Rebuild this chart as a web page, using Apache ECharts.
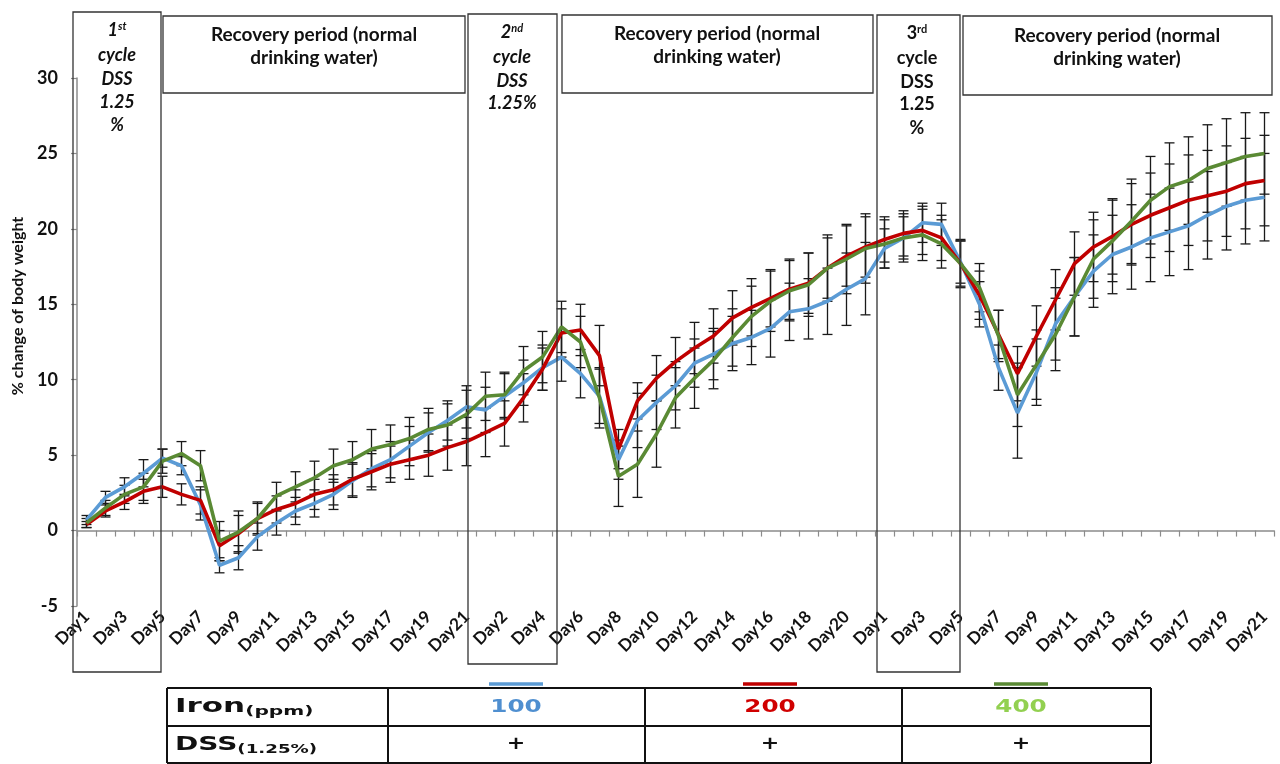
<!DOCTYPE html>
<html>
<head>
<meta charset="utf-8">
<script src="https://cdn.jsdelivr.net/npm/echarts@6/dist/echarts.min.js"></script>
<style>
  html, body { margin: 0; padding: 0; background: #fff; }
  #chart { width: 1280px; height: 764px; }
</style>
</head>
<body>
<div id="chart"></div>
<script>
// Three DSS cycles, each followed by recovery: Day1..Day21 per cycle
const days = [
  'Day1','Day2','Day3','Day4','Day5','Day6','Day7','Day8','Day9','Day10','Day11',
  'Day12','Day13','Day14','Day15','Day16','Day17','Day18','Day19','Day20','Day21',
  'Day1','Day2','Day3','Day4','Day5','Day6','Day7','Day8','Day9','Day10','Day11',
  'Day12','Day13','Day14','Day15','Day16','Day17','Day18','Day19','Day20','Day21',
  'Day1','Day2','Day3','Day4','Day5','Day6','Day7','Day8','Day9','Day10','Day11',
  'Day12','Day13','Day14','Day15','Day16','Day17','Day18','Day19','Day20','Day21'
];

// % change of body weight, iron 100 ppm
const iron100 = [
  0.7, 2.2, 2.9, 3.8, 4.8, 4.3, 1.7, -2.3, -1.8, -0.4, 0.5, 1.3, 1.8, 2.4, 3.3, 4.1, 4.7, 5.6, 6.5, 7.3, 8.2,
  8.0, 8.9, 9.8, 10.8, 11.5, 10.4, 8.9, 4.7, 7.3, 8.5, 9.6, 11.1, 11.7, 12.4, 12.8, 13.4, 14.5, 14.7, 15.2, 16.0, 16.7,
  18.7, 19.4, 20.4, 20.3, 17.8, 15.0, 10.8, 7.8, 10.5, 13.7, 15.5, 17.2, 18.3, 18.8, 19.4, 19.8, 20.2, 20.9, 21.5, 21.9, 22.1
];
// iron 200 ppm
const iron200 = [
  0.4, 1.3, 1.9, 2.6, 2.9, 2.4, 2.0, -1.0, -0.2, 0.8, 1.4, 1.8, 2.4, 2.7, 3.4, 3.9, 4.4, 4.7, 5.0, 5.5, 5.9,
  6.5, 7.1, 8.8, 10.7, 13.1, 13.3, 11.6, 5.4, 8.6, 10.1, 11.2, 12.1, 12.9, 14.1, 14.8, 15.4, 16.0, 16.4, 17.4, 18.2, 18.8,
  19.3, 19.7, 19.9, 19.4, 17.7, 15.6, 13.0, 10.4, 12.9, 15.3, 17.7, 18.8, 19.5, 20.3, 20.9, 21.4, 21.9, 22.2, 22.5, 23.0, 23.2
];
// iron 400 ppm
const iron400 = [
  0.5, 1.5, 2.4, 2.9, 4.6, 5.1, 4.3, -0.7, -0.1, 0.8, 2.3, 2.9, 3.5, 4.3, 4.7, 5.4, 5.7, 6.1, 6.7, 7.0, 7.7,
  8.9, 9.0, 10.6, 11.5, 13.5, 12.5, 8.8, 3.6, 4.4, 6.4, 8.8, 10.1, 11.3, 12.8, 14.2, 15.2, 15.9, 16.3, 17.4, 18.0, 18.7,
  19.0, 19.4, 19.6, 19.0, 17.7, 16.1, 12.9, 9.0, 11.0, 13.0, 15.5, 18.0, 19.2, 20.5, 21.9, 22.8, 23.2, 24.0, 24.4, 24.8, 25.0
];

// Standard error for each group
const err100 = [
  0.3, 0.4, 0.6, 0.9, 0.6, 0.6, 1.0, 0.5, 0.8, 0.9, 0.8, 0.9, 0.9, 1.0, 1.1, 1.2, 1.2, 1.3, 1.3, 1.3, 1.4,
  1.5, 1.5, 1.5, 1.5, 1.6, 1.6, 1.8, 1.3, 1.8, 1.8, 1.6, 1.6, 1.7, 1.8, 1.8, 1.9, 1.9, 2.0, 2.2, 2.4, 2.4,
  1.3, 1.4, 1.3, 1.4, 1.4, 1.5, 1.5, 3.0, 2.2, 2.4, 2.6, 2.4, 2.6, 2.8, 2.9, 2.9, 2.9, 2.9, 2.9, 2.9, 2.9
];
const err200 = [
  0.2, 0.4, 0.5, 0.8, 0.7, 0.7, 0.9, 1.0, 1.2, 1.0, 0.9, 0.9, 1.0, 1.0, 1.1, 1.2, 1.2, 1.3, 1.4, 1.5, 1.6,
  1.6, 1.5, 1.6, 1.4, 1.6, 1.7, 2.0, 1.3, 1.2, 1.5, 1.6, 1.7, 1.8, 1.8, 1.9, 1.9, 2.0, 2.0, 2.0, 2.0, 2.0,
  1.5, 1.5, 1.6, 1.5, 1.5, 1.6, 1.6, 1.8, 2.0, 2.0, 2.1, 2.3, 2.5, 2.7, 2.8, 2.9, 3.0, 3.0, 3.0, 3.0, 3.0
];
const err400 = [
  0.3, 0.5, 0.6, 0.9, 0.8, 0.8, 1.0, 1.3, 1.4, 1.1, 0.9, 1.0, 1.1, 1.1, 1.2, 1.3, 1.3, 1.4, 1.4, 1.4, 1.6,
  1.6, 1.5, 1.6, 1.7, 1.7, 1.7, 2.0, 2.0, 2.2, 2.2, 2.0, 2.0, 1.9, 1.9, 2.0, 2.0, 2.0, 2.1, 2.2, 2.3, 2.3,
  1.6, 1.6, 1.7, 1.6, 1.6, 1.6, 1.7, 2.1, 2.3, 2.4, 2.6, 2.6, 2.7, 2.8, 2.9, 2.9, 2.9, 2.9, 2.9, 2.9, 2.7
];

const yTicks = { min: -5, max: 30, interval: 5 };

const groups = [
  { name: '100', values: iron100, errors: err100, color: '#5b9bd5' },
  { name: '200', values: iron200, errors: err200, color: '#c00000' },
  { name: '400', values: iron400, errors: err400, color: '#5a8a34' }
];

const LABEL_FONT = 'Lato, "Open Sans", sans-serif';
const chart = echarts.init(document.getElementById('chart'), null, { renderer: 'canvas' });

function renderErrorBar(params, api) {
  const lo = api.coord([api.value(0), api.value(1)]);
  const hi = api.coord([api.value(0), api.value(2)]);
  const cap = 5;
  const style = { stroke: '#1a1a1a', lineWidth: 1.3 };
  return {
    type: 'group',
    children: [
      { type: 'line', shape: { x1: lo[0], y1: lo[1], x2: hi[0], y2: hi[1] }, style },
      { type: 'line', shape: { x1: lo[0] - cap, y1: lo[1], x2: lo[0] + cap, y2: lo[1] }, style },
      { type: 'line', shape: { x1: hi[0] - cap, y1: hi[1], x2: hi[0] + cap, y2: hi[1] }, style }
    ]
  };
}

const series = [];
groups.forEach(g => {
  series.push({
    type: 'custom',
    name: g.name + ' err',
    renderItem: renderErrorBar,
    data: g.values.map((v, i) => [i, +(v - g.errors[i]).toFixed(2), +(v + g.errors[i]).toFixed(2)]),
    encode: { x: 0, y: [1, 2] },
    z: 3,
    silent: true
  });
});
groups.forEach(g => {
  series.push({
    type: 'line',
    name: g.name,
    data: g.values,
    symbol: 'none',
    lineStyle: { color: g.color, width: 3.6 },
    itemStyle: { color: g.color },
    z: 4,
    silent: true
  });
});

// Annotation boxes marking the DSS cycles and recovery periods
const boxStroke = { stroke: '#333', lineWidth: 1.3 };
function box(x, y, w, h, fill) {
  return { type: 'rect', shape: { x, y, width: w, height: h }, style: Object.assign({ fill: fill || 'none' }, boxStroke), z: 10, silent: true };
}
const boxFont = 'bold 19px ' + LABEL_FONT;
function txt(x, y, text, font) {
  return {
    type: 'text', x, y, z: 11, silent: true,
    style: { text, font: font || boxFont, fill: '#111', textAlign: 'center', textVerticalAlign: 'middle' }
  };
}
function cycleLine(x, y, num, sup, italic) {
  const st = italic ? 'italic ' : '';
  return {
    type: 'text', x, y, z: 11, silent: true,
    style: {
      text: '{n|' + num + '}{s|' + sup + '}',
      textAlign: 'center', textVerticalAlign: 'middle',
      rich: {
        n: { font: st + 'bold 18px ' + LABEL_FONT, fill: '#111' },
        s: { font: st + 'bold 11px ' + LABEL_FONT, fill: '#111', verticalAlign: 'top', padding: [0, 0, 8, 0] }
      }
    }
  };
}
function cycleText(x, y, text, italic) {
  return txt(x, y, text, (italic ? 'italic ' : '') + 'bold 18px ' + LABEL_FONT);
}

const graphics = [
  // DSS cycle boxes
  box(73, 12, 88, 660),
  box(468, 14, 89, 650),
  box(877, 15, 83, 657),
  // recovery boxes
  box(163, 16, 302, 77, '#fff'),
  box(562, 15, 311, 78, '#fff'),
  box(963, 16, 309, 79, '#fff'),
  txt(314, 35, 'Recovery period (normal'), txt(314, 58, 'drinking water)'),
  txt(717, 34, 'Recovery period (normal'), txt(717, 57, 'drinking water)'),
  txt(1117, 36, 'Recovery period (normal'), txt(1117, 59, 'drinking water)'),
  cycleLine(117, 30, '1', 'st', true),
  cycleText(117, 55, 'cycle', true), cycleText(117, 79, 'DSS', true),
  cycleText(117, 102, '1.25', true), cycleText(117, 125, '%', true),
  cycleLine(512, 32, '2', 'nd', true),
  cycleText(512, 57, 'cycle', true), cycleText(512, 81, 'DSS', true), cycleText(512, 103, '1.25%', true),
  cycleLine(917, 33, '3', 'rd', false),
  cycleText(917, 58, 'cycle', false), cycleText(917, 82, 'DSS', false),
  cycleText(917, 104, '1.25', false), cycleText(917, 128, '%', false),
  // y-axis title
  {
    type: 'text', x: 18, y: 306, rotation: Math.PI / 2, z: 11, silent: true,
    style: { text: '% change of body weight', font: 'bold 16px ' + LABEL_FONT, fill: '#111', textAlign: 'center', textVerticalAlign: 'middle' }
  }
];

// Legend table below the chart
const tbl = { left: 167, right: 1151, top: 688, mid: 726, bottom: 763, cols: [388, 645, 902] };
const tStroke = { stroke: '#111', lineWidth: 2 };
function hline(y) { return { type: 'line', shape: { x1: tbl.left, y1: y, x2: tbl.right, y2: y }, style: tStroke, z: 10, silent: true }; }
function vline(x) { return { type: 'line', shape: { x1: x, y1: tbl.top, x2: x, y2: tbl.bottom }, style: tStroke, z: 10, silent: true }; }
graphics.push(hline(tbl.top), hline(tbl.mid), hline(tbl.bottom), vline(tbl.left), vline(tbl.right));
tbl.cols.forEach(c => graphics.push(vline(c)));

const TABLE_FONT = '"DejaVu Sans", Verdana, sans-serif';
function wideText(x, y, rich, text, align, sx) {
  return {
    type: 'group', x, y, scaleX: sx || 1.45, z: 11, silent: true,
    children: [{ type: 'text', x: 0, y: 0, z: 11, style: { text, rich, textAlign: align || 'center', textVerticalAlign: 'middle' } }]
  };
}
const headRich = {
  b: { font: 'bold 20px ' + TABLE_FONT, fill: '#111' },
  sub: { font: 'bold 13px ' + TABLE_FONT, fill: '#111', verticalAlign: 'bottom', padding: [9, 0, 0, 0] }
};
graphics.push(wideText(175, 707, headRich, '{b|Iron}{sub|(ppm)}', 'left', 1.55));
graphics.push(wideText(175, 745, headRich, '{b|DSS}{sub|(1.25%)}', 'left', 1.4));

const legendCells = [
  { cx: 516, color: '#5b9bd5', text: '100', textColor: '#4f8fd0' },
  { cx: 770, color: '#c00000', text: '200', textColor: '#d00000' },
  { cx: 1021, color: '#5a8a34', text: '400', textColor: '#92d050' }
];
legendCells.forEach(c => {
  graphics.push({ type: 'line', shape: { x1: c.cx - 27, y1: 684, x2: c.cx + 27, y2: 684 }, style: { stroke: c.color, lineWidth: 3.5 }, z: 10, silent: true });
  graphics.push(wideText(c.cx, 708, { v: { font: 'bold 17px ' + TABLE_FONT, fill: c.textColor } }, '{v|' + c.text + '}'));
  graphics.push(wideText(c.cx, 745, { v: { font: 'bold 17px ' + TABLE_FONT, fill: '#111' } }, '{v|+}', 'center', 1.3));
});

const option = {
  animation: false,
  backgroundColor: '#fff',
  grid: { left: 77, right: 6, top: 78, bottom: 158, containLabel: false },
  xAxis: [
    {
      type: 'category',
      data: days,
      boundaryGap: true,
      axisLine: { onZero: true, lineStyle: { color: '#8c8c8c', width: 1.5 } },
      axisTick: { show: true, inside: false, length: 6, interval: 0, lineStyle: { color: '#8c8c8c', width: 1.2 } },
      axisLabel: { show: false },
      splitLine: { show: false }
    },
    {
      type: 'category',
      data: days,
      position: 'bottom',
      boundaryGap: true,
      axisLine: { show: false, onZero: false },
      axisTick: { show: false },
      axisLabel: {
        show: true, interval: 1, rotate: 45, margin: 8,
        color: '#111', fontFamily: LABEL_FONT, fontWeight: 'bold', fontSize: 17
      },
      splitLine: { show: false }
    }
  ],
  yAxis: {
    type: 'value',
    min: yTicks.min, max: yTicks.max, interval: yTicks.interval,
    axisLine: { show: true, lineStyle: { color: '#8c8c8c', width: 1.5 } },
    axisTick: { show: true, length: 6, lineStyle: { color: '#8c8c8c', width: 1.2 } },
    axisLabel: { color: '#111', fontFamily: LABEL_FONT, fontWeight: 'bold', fontSize: 18, margin: 19 },
    splitLine: { show: false }
  },
  series,
  graphic: { elements: graphics }
};
chart.setOption(option);
</script>
</body>
</html>
